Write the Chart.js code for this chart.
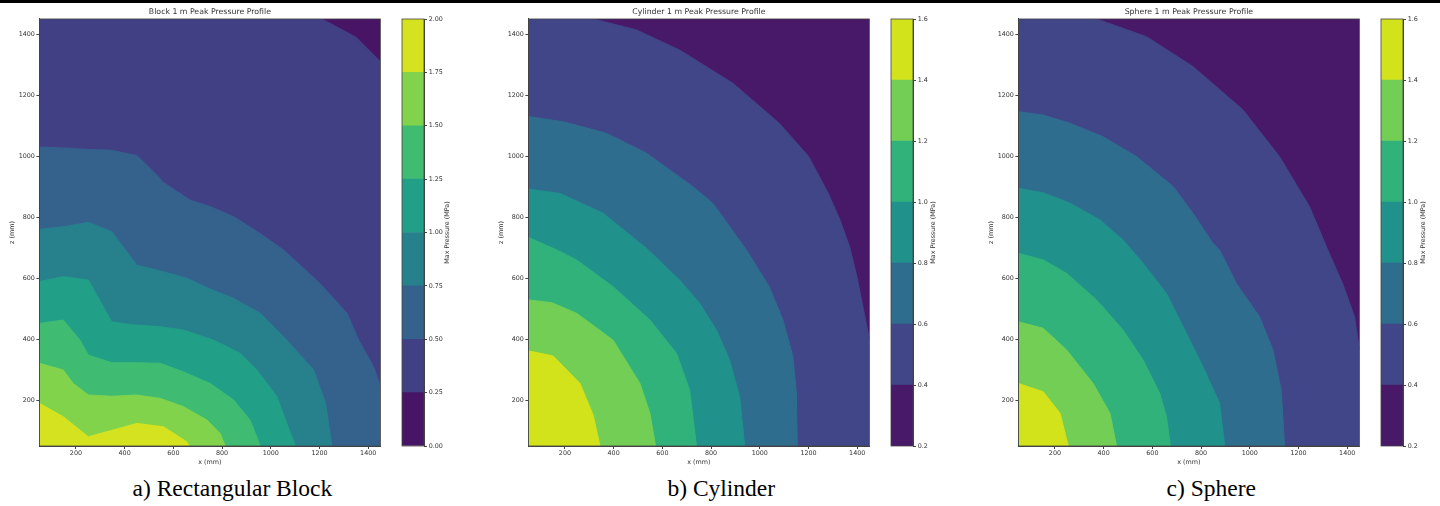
<!DOCTYPE html>
<html>
<head>
<meta charset="utf-8">
<script src="https://cdn.jsdelivr.net/npm/chart.js@4.4.1/dist/chart.umd.min.js"></script>
<style>
  html, body { margin: 0; padding: 0; background: #fff; }
  body { width: 1440px; height: 506px; position: relative; overflow: hidden; }
  .topbar { position: absolute; left: 0; top: 0; width: 1440px; height: 3px; background: #000; }
  .box { position: absolute; top: 0; height: 472px; }
  .caption { position: absolute; top: 477px; width: 400px; text-align: center;
    font-family: "Liberation Serif", "Times New Roman", serif; font-size: 23.5px; line-height: 23px; color: #000; }
</style>
</head>
<body>
<div class="topbar"></div>
<script>
// axes
const xTicks = [200, 400, 600, 800, 1000, 1200, 1400];
const zTicks = [200, 400, 600, 800, 1000, 1200, 1400];
const xRange = [50, 1450];
const zRange = [50, 1450];

// a) block, levels 0..2 MPa
const blockLevels = [0, 0.25, 0.5, 0.75, 1.0, 1.25, 1.5, 1.75, 2.0];
const blockColors = ["#471466", "#424085", "#34628d", "#27818d", "#229f87", "#40bc72", "#82d34c", "#d5e21f"];
// contour lines [x, z] (mm), pressure is above the level below/left of the line
const block025 = [[50, 1450], [1210, 1450], [1350, 1390], [1450, 1310]];
const block050 = [[50, 1030], [150, 1027], [250, 1022], [340, 1020], [450, 1002], [511, 955], [561, 913], [669, 856],
  [751, 835], [847, 802], [950, 750], [1052, 693], [1202, 583], [1313, 485], [1361, 397], [1422, 310], [1450, 244]];
const block075 = [[50, 760], [148, 769], [251, 783], [347, 753], [450, 643], [532, 627], [655, 600], [750, 565],
  [847, 534], [957, 485], [1066, 397], [1176, 299], [1225, 190], [1251, 50]];
const block100 = [[50, 589], [148, 605], [251, 594], [347, 457], [436, 447], [546, 441], [641, 430], [766, 397],
  [874, 354], [943, 299], [1025, 212], [1066, 124], [1101, 50]];
const block125 = [[50, 452], [148, 463], [217, 397], [251, 348], [347, 323], [450, 323], [546, 321], [641, 293],
  [751, 255], [847, 201], [915, 135], [957, 50]];
const block150 = [[50, 321], [148, 299], [189, 255], [251, 217], [347, 213], [450, 217], [546, 206], [641, 179],
  [738, 135], [792, 91], [813, 50]];
const block175 = [[50, 190], [148, 146], [251, 80], [450, 124], [559, 113], [655, 64], [665, 50]];

// b) cylinder and c) sphere, levels 0.2..1.6 MPa
const roundLevels = [0.2, 0.4, 0.6, 0.8, 1.0, 1.2, 1.4, 1.6];
const roundColors = ["#481869", "#404688", "#2f6d8e", "#21918c", "#31b27b", "#72ce55", "#d2e21b"];

const cyl04 = [[50, 1450], [316, 1450], [494, 1414], [671, 1348], [890, 1239], [1080, 1108], [1200, 1000],
  [1280, 880], [1330, 790], [1370, 700], [1400, 600], [1425, 500], [1450, 400]];
const cyl06 = [[50, 1130], [193, 1113], [371, 1075], [535, 1010], [726, 900], [808, 845], [945, 693],
  [1039, 572], [1095, 463], [1136, 343], [1150, 223], [1154, 50]];
const cyl08 = [[50, 892], [180, 878], [357, 813], [535, 698], [671, 594], [753, 518], [822, 430],
  [876, 332], [917, 212], [938, 50]];
const cyl10 = [[50, 734], [166, 693], [248, 660], [398, 572], [549, 463], [658, 354], [712, 233], [740, 50]];
const cyl12 = [[50, 529], [146, 520], [248, 485], [398, 397], [508, 255], [549, 157], [572, 50]];
const cyl14 = [[50, 362], [152, 345], [262, 255], [316, 151], [344, 50]];

const sph04 = [[50, 1450], [371, 1450], [576, 1392], [767, 1294], [972, 1152], [1122, 999], [1245, 835],
  [1320, 693], [1381, 583], [1430, 474], [1450, 365]];
const sph06 = [[50, 1146], [152, 1135], [262, 1108], [398, 1064], [535, 999], [685, 901], [767, 813],
  [849, 714], [876, 693], [945, 583], [1040, 474], [1095, 365], [1129, 233], [1143, 50]];
const sph08 = [[50, 895], [152, 880], [262, 846], [385, 791], [480, 725], [562, 649], [658, 550],
  [740, 419], [808, 310], [876, 190], [897, 50]];
const sph10 = [[50, 682], [152, 660], [248, 616], [371, 529], [480, 430], [562, 332], [630, 223], [658, 146], [674, 50]];
const sph12 = [[50, 457], [152, 436], [248, 365], [357, 255], [426, 157], [453, 50]];
const sph14 = [[50, 255], [152, 228], [221, 157], [255, 50]];

const FONT = "DejaVu Sans";
const TXT = "#333";
const AX = "#444";

// frame around plot area, optional rotated colorbar label
const frame = {
  id: "frame",
  afterDraw(chart, args, opts) {
    const { ctx, chartArea: a } = chart;
    ctx.save();
    ctx.strokeStyle = AX;
    ctx.lineWidth = 0.8;
    ctx.strokeRect(a.left, a.top, a.right - a.left, a.bottom - a.top);
    if (opts.label) {
      ctx.translate(opts.labelX, (a.top + a.bottom) / 2);
      ctx.rotate(-Math.PI / 2);
      ctx.font = `6.4px "${FONT}"`;
      ctx.fillStyle = TXT;
      ctx.textAlign = "center";
      ctx.textBaseline = "middle";
      ctx.fillText(opts.label, 0, 0);
    }
    ctx.restore();
  },
};

function makeBox(left, width) {
  const div = document.createElement("div");
  div.className = "box";
  div.style.left = left + "px";
  div.style.width = width + "px";
  const canvas = document.createElement("canvas");
  div.append(canvas);
  document.body.append(div);
  return canvas;
}

function makePanel(p) {
  const mainCanvas = makeBox(p.plotLeft - 39.4, 390);
  const lines = [[[xRange[0], zRange[1]], [xRange[1], zRange[1]]]].concat(p.contours);
  const datasets = lines
    .map((pts, i) => ({
      data: pts.map(([x, z]) => ({ x: x, y: z })),
      backgroundColor: p.colors[i],
      borderColor: p.colors[i],
      borderWidth: 1,
      pointRadius: 0,
      pointHoverRadius: 0,
      fill: "start",
      tension: 0,
    }))
    .reverse();

  const tickFont = { family: FONT, size: 6.4 };

  new Chart(mainCanvas, {
    type: "line",
    data: { datasets: datasets },
    options: {
      animation: false,
      responsive: true,
      maintainAspectRatio: false,
      events: [],
      layout: { padding: { left: 0, right: 390 - 39.4 - 341, top: 0, bottom: 0 } },
      plugins: {
        legend: { display: false },
        tooltip: { enabled: false },
        title: {
          display: true,
          text: p.title,
          fullSize: false,
          color: TXT,
          font: { family: FONT, size: 7.8, weight: "normal" },
          padding: { top: 7.5, bottom: 2.1 },
        },
        frame: {},
      },
      scales: {
        x: {
          type: "linear",
          min: xRange[0],
          max: xRange[1],
          afterBuildTicks: (s) => { s.ticks = xTicks.map((v) => ({ value: v })); },
          afterFit: (s) => { s.height = 26; },
          grid: { drawOnChartArea: false, tickLength: 3, color: AX },
          border: { color: AX },
          ticks: { font: tickFont, color: TXT, padding: 1, maxRotation: 0, autoSkip: false, callback: (v) => String(v) },
          title: { display: true, text: "x (mm)", font: tickFont, color: TXT, padding: { top: 0, bottom: 5.5 } },
        },
        y: {
          type: "linear",
          min: zRange[0],
          max: zRange[1],
          afterBuildTicks: (s) => { s.ticks = zTicks.map((v) => ({ value: v })); },
          afterFit: (s) => { s.width = 39.4; },
          grid: { drawOnChartArea: false, tickLength: 3, color: AX },
          border: { color: AX },
          ticks: { font: tickFont, color: TXT, padding: 1.5, autoSkip: false, callback: (v) => String(v) },
          title: { display: true, text: "z (mm)", font: tickFont, color: TXT, padding: { top: 8.5, bottom: 0 } },
        },
      },
    },
    plugins: [frame],
  });

  // colorbar
  const cbCanvas = makeBox(p.plotLeft + 357.3, 60);
  const lv = p.levels;
  new Chart(cbCanvas, {
    type: "bar",
    data: {
      labels: [""],
      datasets: p.colors.map((c, i) => ({
        data: [[lv[i], lv[i + 1]]],
        backgroundColor: c,
        borderWidth: 0,
        categoryPercentage: 1,
        barPercentage: 1,
      })),
    },
    options: {
      animation: false,
      responsive: true,
      maintainAspectRatio: false,
      events: [],
      layout: { padding: { left: 5, top: 19, bottom: 26, right: 0 } },
      plugins: {
        legend: { display: false },
        tooltip: { enabled: false },
        frame: { label: "Max Pressure (MPa)", labelX: p.cbLabelX },
      },
      scales: {
        x: { display: false, stacked: true },
        y: {
          position: "right",
          min: lv[0],
          max: lv[lv.length - 1],
          afterBuildTicks: (s) => { s.ticks = lv.map((v) => ({ value: v })); },
          afterFit: (s) => { s.width = 33; },
          grid: { drawOnChartArea: false, tickLength: 3, color: AX },
          border: { color: AX },
          ticks: { font: tickFont, color: TXT, padding: 1.7, autoSkip: false, callback: (v) => v.toFixed(p.digits) },
        },
      },
    },
    plugins: [frame],
  });

  const cap = document.createElement("div");
  cap.className = "caption";
  cap.style.left = p.plotLeft + 193 - 200 + "px";
  cap.innerText = p.caption;
  document.body.append(cap);
}

makePanel({
  plotLeft: 39.4,
  title: "Block 1 m Peak Pressure Profile",
  contours: [block025, block050, block075, block100, block125, block150, block175],
  levels: blockLevels,
  colors: blockColors,
  digits: 2,
  cbLabelX: 50.3,
  caption: "a) Rectangular Block",
});

makePanel({
  plotLeft: 528.3,
  title: "Cylinder 1 m Peak Pressure Profile",
  contours: [cyl04, cyl06, cyl08, cyl10, cyl12, cyl14],
  levels: roundLevels,
  colors: roundColors,
  digits: 1,
  cbLabelX: 47.4,
  caption: "b) Cylinder",
});

makePanel({
  plotLeft: 1018.3,
  title: "Sphere 1 m Peak Pressure Profile",
  contours: [sph04, sph06, sph08, sph10, sph12, sph14],
  levels: roundLevels,
  colors: roundColors,
  digits: 1,
  cbLabelX: 47.4,
  caption: "c) Sphere",
});
</script>
</body>
</html>
